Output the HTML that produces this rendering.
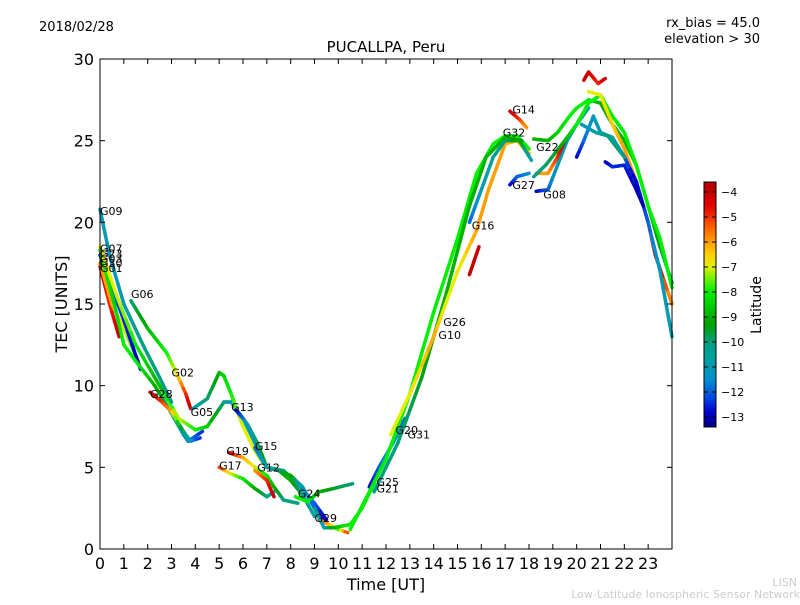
<!DOCTYPE html>
<html><head><meta charset="utf-8"><style>
body{margin:0;background:#fff;font-family:"Liberation Sans","DejaVu Sans",sans-serif;}
svg text{font-family:"DejaVu Sans","Liberation Sans",sans-serif;}
</style></head><body>
<svg id="chart" width="800" height="600" xmlns="http://www.w3.org/2000/svg">
<rect width="800" height="600" fill="#fff"/>
<text x="39" y="31" font-size="13">2018/02/28</text>
<text x="760" y="27" font-size="13" text-anchor="end">rx_bias = 45.0</text>
<text x="760" y="43" font-size="13" text-anchor="end">elevation &gt; 30</text>
<text x="386" y="52" font-size="15" text-anchor="middle">PUCALLPA, Peru</text>
<text x="386" y="590" font-size="16" text-anchor="middle">Time [UT]</text>
<text x="67" y="304" font-size="16" text-anchor="middle" transform="rotate(-90 67 304)">TEC [UNITS]</text>
<text x="797" y="586" font-size="11" fill="#ccc" text-anchor="end">LISN</text>
<text x="800" y="598" font-size="11" fill="#ccc" text-anchor="end">Low-Latitude Ionospheric Sensor Network</text>
<defs><linearGradient id="cmap" x1="0" y1="1" x2="0" y2="0"></linearGradient></defs>
<g id="tracks"></g>
<g id="axes"></g>
<g id="labels"></g>
<g id="cbar"></g>
</svg>
<script>
const xTicks=[0,1,2,3,4,5,6,7,8,9,10,11,12,13,14,15,16,17,18,19,20,21,22,23];
const yTicks=[0,5,10,15,20,25,30];
const cbTicks=[-4,-5,-6,-7,-8,-9,-10,-11,-12,-13];
const tracks=[
[[0,17.3,-4],[0.4,15,-5],[0.8,13,-4]],
[[0,17.5,-6],[0.5,15,-6],[1,13.5,-7],[1.6,11.5,-8]],
[[0,18,-12.5],[0.5,16,-12],[1,14,-12.5],[1.7,11,-13]],
[[0,18.3,-8],[0.6,15,-8.5],[1,12.5,-8],[1.5,11.5,-8],[2.3,10,-9],[3,8.3,-10],[3.5,7,-11],[3.7,6.6,-11.5],[4.3,7.2,-12.5]],
[[0,18.5,-7],[0.7,15.5,-7],[1.5,12.5,-8],[2.5,10,-9],[3.3,8,-7],[4,7.3,-8],[4.5,7.5,-8.5],[5.2,9,-10],[5.5,9,-11],[6,8,-11],[6.5,6.5,-11.5],[7,5,-11],[7.7,4.8,-10.5],[8.3,4,-11],[9,2.8,-12],[9.5,1.8,-13]],
[[0,20.8,-11],[0.4,18,-11],[1,15,-11],[1.8,12.5,-10],[2.5,10.5,-10],[3,9,-10]],
[[1.3,15.2,-10],[2,13.5,-9],[2.8,12,-8],[3.2,10.8,-7],[3.6,9.5,-5],[3.8,8.6,-4]],
[[2.1,9.6,-4],[2.6,9,-5],[3,8.4,-6],[3.5,7.2,-10],[3.8,6.6,-11],[4.2,6.8,-12.5]],
[[3.9,8.6,-11],[4.5,9.2,-10],[5,10.8,-9],[5.2,10.6,-8.5],[5.5,9.5,-8],[6,7.5,-7],[6.5,6,-7],[7,5,-8],[7.5,4.8,-9],[8,4.2,-9],[8.5,3.3,-10],[9,2,-11]],
[[5.7,8.5,-13],[6,8,-12],[6.2,7.6,-11],[6.6,6.5,-10],[7,5,-9]],
[[5.4,5.9,-4],[6,5.6,-6],[6.5,5,-7],[7,4.5,-8],[7.3,3.8,-9],[7.7,3,-10],[8.3,2.8,-10]],
[[5,5,-5],[5.5,4.6,-7],[6,4.3,-8],[6.5,3.7,-9],[7,3.2,-10],[7.3,3.5,-11]],
[[6.5,4.8,-6],[7,4.2,-5],[7.3,3.2,-4]],
[[6.5,6.2,-12],[7,5,-11],[7.5,4.8,-10],[8,4.5,-9],[8.5,3.8,-11],[9,2.5,-12],[9.4,1.8,-13]],
[[8.2,3.2,-8],[8.7,2.9,-8],[9.2,3.5,-9],[9.8,3.7,-9.5],[10.6,4,-10]],
[[9.2,1.8,-5],[9.6,1.5,-6],[10,1.2,-8],[10.4,1,-5]],
[[9,2.5,-10],[9.4,1.3,-11],[9.8,1.3,-9],[10.5,1.5,-8],[11,2.5,-8],[11.5,4,-8]],
[[11.3,3.8,-13],[11.7,5,-12],[12.3,6.5,-11],[12.8,8,-12]],
[[10.5,1.2,-8],[11.3,3.5,-8],[12,5.5,-8],[13,9.5,-8],[14,14.5,-8],[15,19,-8],[15.8,23,-8],[16.5,24.8,-8],[17,25.3,-8],[17.5,25.3,-8],[18,24.5,-8]],
[[11.5,3.5,-10],[12.5,6.5,-10],[13.5,10.5,-9.5],[14.5,15.5,-9],[15.5,21,-9],[16.2,24,-9],[17,25.2,-9],[17.7,25,-9.5]],
[[12.2,7,-7],[13,9.5,-7],[14,13,-6],[14.5,15,-7],[15,17,-7],[15.8,19.5,-6],[16.3,22,-6],[17,24.8,-6],[17.5,25,-6.5],[18,24.2,-6]],
[[15.5,20,-12],[16,22,-11],[16.5,24,-10.5],[17,25,-10],[17.6,25,-9],[18.1,23.8,-11]],
[[15.5,16.8,-4],[15.9,18.5,-4]],
[[17.2,26.8,-4],[17.6,26.3,-5],[17.9,25.8,-6]],
[[17.2,22.3,-13],[17.5,22.8,-12],[18,23,-11.5]],
[[18.3,21.9,-13],[18.8,22,-12],[19.2,23.5,-11],[19.6,25,-11],[20,26,-10.5],[20.5,27,-11]],
[[18.2,25.1,-9],[18.8,25,-9],[19.2,25.5,-8.5],[19.7,26.5,-8],[20,27,-8],[20.5,27.5,-8],[21,27.3,-9],[21.5,26,-9.5],[22,25,-9],[22.5,23.5,-9],[23,21,-9],[23.5,18.5,-9.5],[24,16.3,-10]],
[[18.3,23,-6],[18.8,23,-6],[19.2,24,-5],[19.5,25,-4]],
[[18.2,22.8,-10],[18.7,23.5,-10],[19.5,25,-9],[20,26,-8],[20.5,27.3,-8],[21,27.8,-8],[21.5,26.5,-8],[22,25.5,-8],[22.5,23.5,-8],[23,21,-8],[23.5,19,-8],[24,16,-8]],
[[20.3,28.7,-4],[20.5,29.2,-4],[20.9,28.5,-5],[21.2,28.8,-4]],
[[20.5,28,-7],[21,27.8,-7],[21.5,26,-6.5],[22,24.5,-6],[22.5,22.5,-6],[23,20,-5],[23.3,18,-4],[24,15,-6]],
[[20,24,-13],[20.3,25,-12],[20.7,26.5,-11],[21,25.5,-11],[21.5,25.2,-10.5],[22,24,-12],[22.5,22.5,-13],[23,20,-12],[23.5,17,-11],[24,13,-11]],
[[21.2,23.7,-13],[21.5,23.4,-12.5],[22,23.5,-12.5],[22.5,22,-13],[22.8,21,-13]],
[[20.2,26,-11],[20.8,25.5,-11],[21.3,25.3,-10],[22,24,-10]]
];
const satNames=["G09","G07","G23","G03","G30","G01","G06","G02","G28","G05","G13","G19","G15","G17","G12","G24","G29","G25","G21","G20","G31","G26","G10","G16","G14","G32","G22","G27","G08"];
const satT=[0,0,0,0,0,0,1.3,3,2.1,3.8,5.5,5.3,6.5,5,6.6,8.3,9,11.6,11.6,12.4,12.9,14.4,14.2,15.6,17.3,16.9,18.3,17.3,18.6];
const satTec=[20.7,18.4,18.1,17.8,17.5,17.2,15.6,10.8,9.5,8.4,8.7,6,6.3,5.1,5,3.4,1.9,4.1,3.7,7.3,7,13.9,13.1,19.8,26.9,25.5,24.6,22.3,21.7];

const NS="http://www.w3.org/2000/svg";
const X0=100,X1=672,Y0=549,Y1=59;
const xs=t=>X0+t*(X1-X0)/24;
const ys=v=>Y0-v*(Y0-Y1)/30;
const LMIN=-13.4,LMAX=-3.6;
const CST=[[-13.4,[0,0,128]],[-12.8,[0,0,208]],[-12.3,[0,64,224]],[-11.5,[0,144,208]],[-10.7,[0,160,160]],[-10,[0,160,128]],[-9.3,[0,160,0]],[-8.5,[0,208,0]],[-8,[0,240,0]],[-7.4,[128,240,0]],[-7,[224,240,0]],[-6.5,[255,208,0]],[-6,[255,160,0]],[-5.4,[255,96,0]],[-5,[240,48,0]],[-4.5,[224,0,0]],[-3.6,[176,0,0]]];
function cmap(lat){
  if(lat<=CST[0][0])return `rgb(${CST[0][1]})`;
  for(let i=0;i<CST.length-1;i++){const a=CST[i],b=CST[i+1];
    if(lat<=b[0]){const f=(lat-a[0])/(b[0]-a[0]);
      return `rgb(${a[1].map((c,k)=>Math.round(c+(b[1][k]-c)*f)).join(',')})`;}}
  return `rgb(${CST[CST.length-1][1]})`;
}
function mk(tag,attrs,parent){const e=document.createElementNS(NS,tag);for(const k in attrs)e.setAttribute(k,attrs[k]);parent.appendChild(e);return e;}
const grad=document.getElementById('cmap');
CST.forEach(s=>{mk('stop',{offset:(s[0]-LMIN)/(LMAX-LMIN),'stop-color':`rgb(${s[1]})`},grad);});
const gT=document.getElementById('tracks');
tracks.forEach((tr,i)=>{
  const g=mk('g',{},gT);
  
  
  for(let j=0;j<tr.length-1;j++){
    const a=tr[j],b=tr[j+1];const N=4;
    for(let k=0;k<N;k++){
      const f0=k/N,f1=(k+1)/N,fm=(k+0.5)/N;
      const l=mk('line',{x1:xs(a[0]+(b[0]-a[0])*f0),y1:ys(a[1]+(b[1]-a[1])*f0),x2:xs(a[0]+(b[0]-a[0])*f1),y2:ys(a[1]+(b[1]-a[1])*f1),stroke:cmap(a[2]+(b[2]-a[2])*fm),'stroke-width':3.5,'stroke-linecap':'round'},g);
      
      
    }
  }
});
const gA=document.getElementById('axes');
const fr=mk('rect',{x:X0,y:Y1,width:X1-X0,height:Y0-Y1,fill:'none',stroke:'#000','stroke-width':1},gA);


xTicks.forEach(t=>{
  const x=xs(t);
  mk('line',{x1:x,y1:Y0,x2:x,y2:Y0-5,stroke:'#000'},gA);
  mk('line',{x1:x,y1:Y1,x2:x,y2:Y1+5,stroke:'#000'},gA);
  const tx=mk('text',{x:x,y:Y0+20,'font-size':16,'text-anchor':'middle'},gA);
  tx.textContent=t;
  
  
});
yTicks.forEach(v=>{
  const y=ys(v);
  mk('line',{x1:X0,y1:y,x2:X0+5,y2:y,stroke:'#000'},gA);
  mk('line',{x1:X1,y1:y,x2:X1-5,y2:y,stroke:'#000'},gA);
  const tx=mk('text',{x:X0-6,y:y+6,'font-size':16,'text-anchor':'end'},gA);
  tx.textContent=v;
  
  
});
const gL=document.getElementById('labels');
satNames.forEach((n,i)=>{
  const tx=mk('text',{x:xs(satT[i]),y:ys(satTec[i])+4,'font-size':11},gL);
  tx.textContent=n;
  
  
});
const gC=document.getElementById('cbar');
const cbTop=182,cbBot=427,cbx=704,cbw=12;
const cy=l=>cbBot-(l-LMIN)/(LMAX-LMIN)*(cbBot-cbTop);
const cr=mk('rect',{x:cbx,y:cbTop,width:cbw,height:cbBot-cbTop,fill:'url(#cmap)',stroke:'#000'},gC);


cbTicks.forEach(l=>{
  const y=cy(l);
  mk('line',{x1:cbx+cbw-4,y1:y,x2:cbx+cbw,y2:y,stroke:'#000'},gC);
  mk('line',{x1:cbx,y1:y,x2:cbx+4,y2:y,stroke:'#000'},gC);
  const tx=mk('text',{x:cbx+cbw+5,y:y+4,'font-size':11},gC);
  tx.textContent='\u2212'+Math.abs(l);
  
  
});
const ct=mk('text',{x:761,y:305,'font-size':14,'text-anchor':'middle',transform:'rotate(-90 761 305)'},gC);
ct.textContent='Latitude';


</script>
</body></html>
